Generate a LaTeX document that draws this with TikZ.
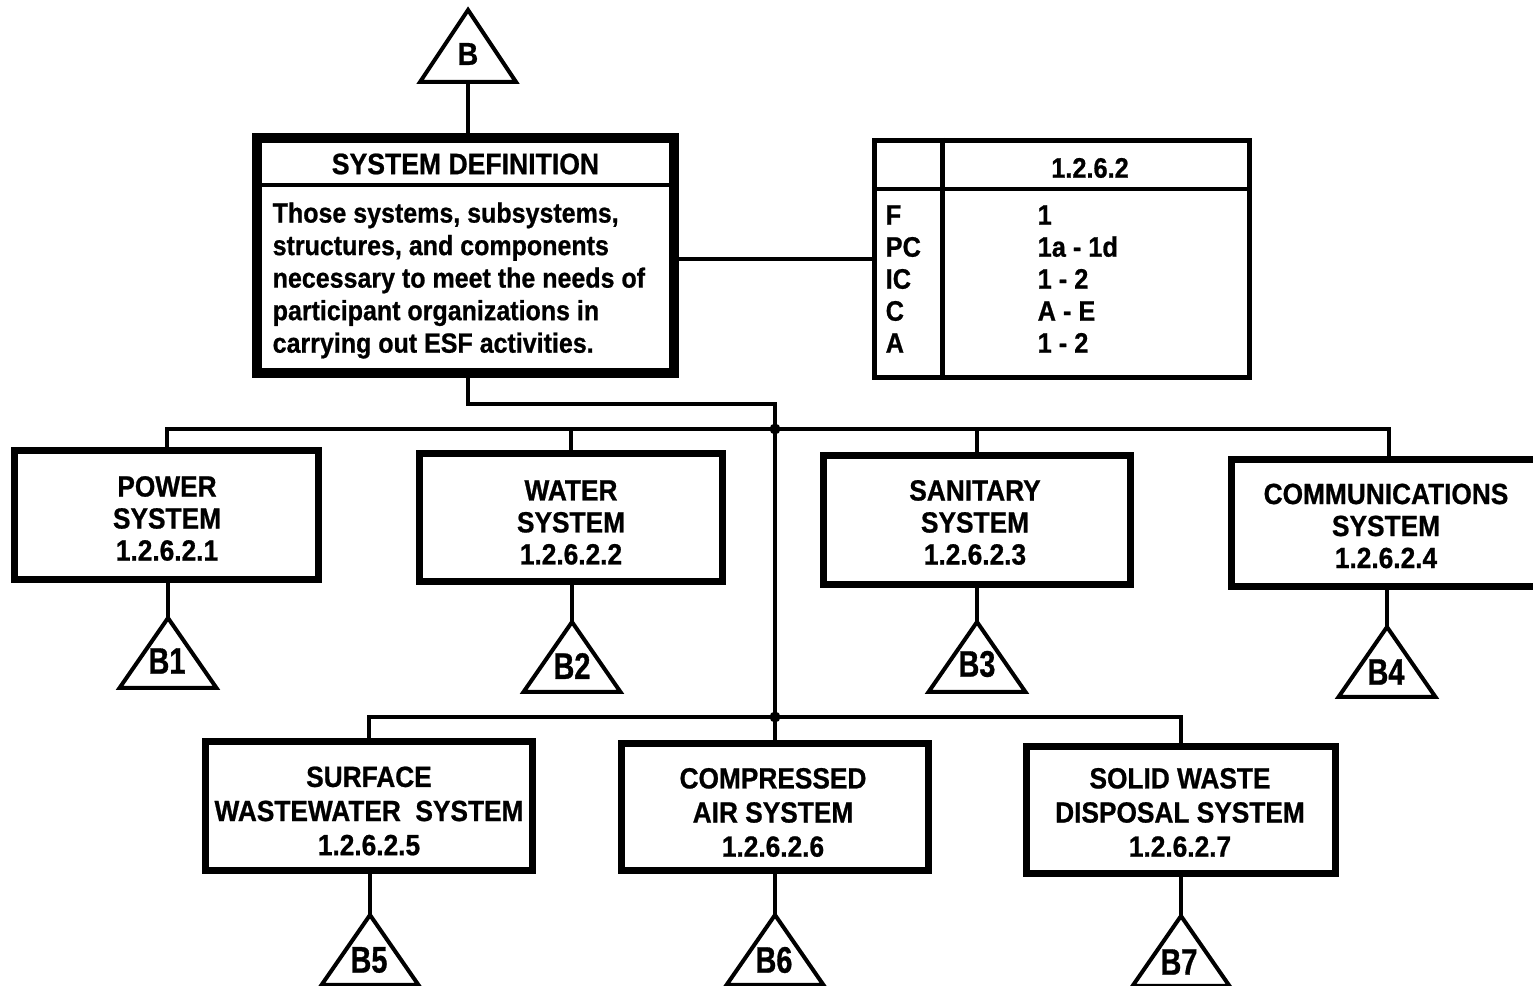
\documentclass[tikz,border=0pt]{standalone}
\usepackage{fontspec}
\setmainfont{Liberation Sans}[FakeStretch=0.9, BoldFeatures={FakeBold=0.8}]
\newfontfamily\trifont{Liberation Sans}[FakeStretch=0.78, BoldFeatures={FakeBold=0.8}]
\begin{document}
\begin{tikzpicture}[x=0.01cm, y=-0.01cm,
  link/.style={line width=0.04cm},
  sysbox/.style={draw, line width=0.07cm, inner sep=0pt},
  boxtext/.style={inner sep=0pt, align=center,
    font=\fontsize{8.3}{9.1}\selectfont\bfseries},
  boxtextlow/.style={boxtext, font=\fontsize{8.3}{9.7}\selectfont\bfseries},
  tri/.style={draw, line width=0.04cm, line join=miter},
  trilabel/.style={inner sep=0pt, font=\trifont\fontsize{10.5}{11}\selectfont\bfseries},
  tabtext/.style={inner sep=0pt, anchor=west, align=left,
    font=\fontsize{8}{9.1}\selectfont\bfseries},
  junction/.style={circle, fill, inner sep=0pt, minimum size=0.11cm},
]
\useasboundingbox (0,0) rectangle (1533,986);
\clip (0,0) rectangle (1533,986);

% ---------- reference triangle above the definition ----------
\coordinate (topapex) at (468,10);
\coordinate (topbase) at (468,82);
\draw[tri] (topapex) -- ++(-48,72) -- ++(96,0) -- cycle;
\node[inner sep=0pt, font=\fontsize{9}{10}\selectfont\bfseries] (topB) at (468,54) {B};

% ---------- system definition block ----------
\node[draw, line width=0.1cm, minimum width=4.16cm, minimum height=2.345cm, inner sep=0pt]
  (sysdef) at (465.5,255.25) {};
\coordinate (hdr) at (0,185);
\draw[line width=0.04cm] (sysdef.west |- hdr) -- (sysdef.east |- hdr);
\node[inner sep=0pt, font=\fontsize{8.4}{9.5}\selectfont\bfseries] (sdtitle) at (465.5,164)
  {SYSTEM DEFINITION};
\node[inner sep=0pt, anchor=west, align=left, font=\fontsize{7.9}{9.25}\selectfont\bfseries]
  (sdbody) at (272,280.5)
  {Those systems, subsystems,\\structures, and components\\necessary to meet the needs of\\participant organizations in\\carrying out ESF activities.};
\draw[link] (topbase) -- (topbase |- sysdef.north);

% ---------- code table ----------
\node[draw, line width=0.05cm, minimum width=3.75cm, minimum height=2.37cm, inner sep=0pt]
  (tbl) at (1062,259) {};
\coordinate (thdr) at (0,189);
\coordinate (tdiv) at (942.5,0);
\draw[line width=0.045cm] (tbl.west |- thdr) -- (tbl.east |- thdr);
\draw[line width=0.045cm] (tdiv |- tbl.north) -- (tdiv |- tbl.south);
\node[inner sep=0pt, font=\fontsize{8}{9.1}\selectfont\bfseries] (tid) at (1090,168) {1.2.6.2};
\node[tabtext] (tkeys) at (885,279) {F\\PC\\IC\\C\\A};
\node[tabtext] (tvals) at (1037,279) {1\\1a - 1d\\1 - 2\\A - E\\1 - 2};
\draw[link] (sysdef.east |- tbl.west) -- (tbl.west);

% ---------- first row of subsystems ----------
\node[sysbox, minimum width=3.03cm, minimum height=1.28cm] (power) at (166.5,515) {};
\node[boxtext] (powertxt) at (167,518.5) {POWER\\SYSTEM\\1.2.6.2.1};
\node[sysbox, minimum width=3.03cm, minimum height=1.27cm] (water) at (571,517.5) {};
\node[boxtext] (watertxt) at (571,522.5) {WATER\\SYSTEM\\1.2.6.2.2};
\node[sysbox, minimum width=3.07cm, minimum height=1.28cm] (sanitary) at (977,520) {};
\node[boxtext] (sanitarytxt) at (975,522.5) {SANITARY\\SYSTEM\\1.2.6.2.3};
\node[sysbox, minimum width=3.13cm, minimum height=1.26cm] (comm) at (1388.5,523) {};
\node[boxtext] (commtxt) at (1386,526) {COMMUNICATIONS\\SYSTEM\\1.2.6.2.4};

% ---------- second row of subsystems ----------
\node[sysbox, minimum width=3.27cm, minimum height=1.29cm] (surface) at (369,806) {};
\node[boxtextlow] (surfacetxt) at (369,811) {SURFACE\\WASTEWATER\ \ SYSTEM\\1.2.6.2.5};
\node[sysbox, minimum width=3.06cm, minimum height=1.27cm] (compressed) at (775,807) {};
\node[boxtextlow] (compressedtxt) at (773,812.5) {COMPRESSED\\AIR SYSTEM\\1.2.6.2.6};
\node[sysbox, minimum width=3.08cm, minimum height=1.265cm] (solid) at (1181,810) {};
\node[boxtextlow] (solidtxt) at (1180,812.5) {SOLID WASTE\\DISPOSAL SYSTEM\\1.2.6.2.7};

% ---------- trunk and buses ----------
\coordinate (jog) at (775,404);
\coordinate (j1) at (775,429);
\coordinate (j2) at (775,717);
\draw[link] (sysdef.south -| topapex) |- (jog) -- (j2);
\draw[link] (power.north) |- (j1) -| (comm.north);
\draw[link] (water.north) -- (water.north |- j1);
\draw[link] (sanitary.north) -- (sanitary.north |- j1);
\draw[link] (surface.north) |- (j2) -| (solid.north);
\draw[link] (compressed.north) -- (j2);
\node[junction] (d1) at (j1) {};
\node[junction] (d2) at (j2) {};

% ---------- continuation triangles ----------
\coordinate (a1) at (168,618);
\draw[tri] (a1) -- ++(-48.5,70) -- ++(97,0) -- cycle;
\node[trilabel] (b1) at (167,661) {B1};
\draw[link] (power.south -| a1) -- (a1);

\coordinate (a2) at (572,622);
\draw[tri] (a2) -- ++(-48.5,70) -- ++(97,0) -- cycle;
\node[trilabel] (b2) at (572,666) {B2};
\draw[link] (water.south -| a2) -- (a2);

\coordinate (a3) at (977,622);
\draw[tri] (a3) -- ++(-48.5,70) -- ++(97,0) -- cycle;
\node[trilabel] (b3) at (977,664) {B3};
\draw[link] (sanitary.south -| a3) -- (a3);

\coordinate (a4) at (1387,627);
\draw[tri] (a4) -- ++(-48.5,70) -- ++(97,0) -- cycle;
\node[trilabel] (b4) at (1386,672) {B4};
\draw[link] (comm.south -| a4) -- (a4);

\coordinate (a5) at (370,915);
\draw[tri] (a5) -- ++(-48.5,70) -- ++(97,0) -- cycle;
\node[trilabel] (b5) at (369,960) {B5};
\draw[link] (surface.south -| a5) -- (a5);

\coordinate (a6) at (775,915);
\draw[tri] (a6) -- ++(-48.5,70) -- ++(97,0) -- cycle;
\node[trilabel] (b6) at (774,960) {B6};
\draw[link] (compressed.south -| a6) -- (a6);

\coordinate (a7) at (1181,916);
\draw[tri] (a7) -- ++(-48.5,70) -- ++(97,0) -- cycle;
\node[trilabel] (b7) at (1179,962) {B7};
\draw[link] (solid.south -| a7) -- (a7);
\end{tikzpicture}
\end{document}
